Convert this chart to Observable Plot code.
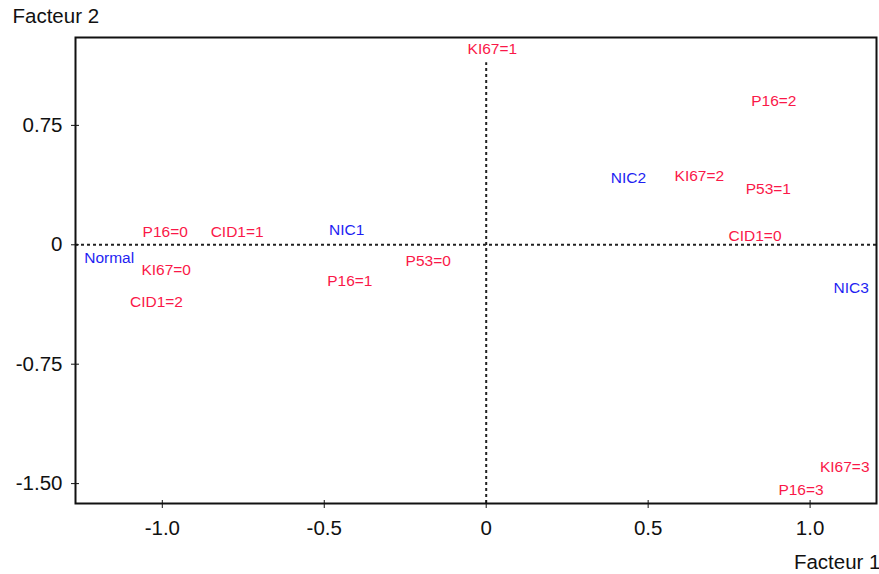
<!DOCTYPE html>
<html>
<head>
<meta charset="utf-8">
<script src="https://cdn.jsdelivr.net/npm/d3@7"></script>
<script src="https://cdn.jsdelivr.net/npm/@observablehq/plot@0.6"></script>
<style>
  html, body { margin: 0; padding: 0; background: #fff; }
  #chart svg { display: block; }
</style>
</head>
<body>
<div id="chart"></div>
<script>
// Modalities (red) and group points (blue)
const modLabels = ["KI67=1", "P16=2", "KI67=2", "P53=1", "CID1=0", "KI67=3", "P16=3",
                   "P16=0", "CID1=1", "KI67=0", "CID1=2", "P53=0", "P16=1"];
const modX = [0.019, 0.888, 0.658, 0.871, 0.830, 1.107, 0.972,
              -0.991, -0.769, -0.988, -1.018, -0.179, -0.421];
const modY = [1.228, 0.901, 0.430, 0.351, 0.058, -1.397, -1.543,
              0.083, 0.083, -0.161, -0.360, -0.105, -0.228];

const grpLabels = ["Normal", "NIC1", "NIC2", "NIC3"];
const grpX = [-1.164, -0.431, 0.439, 1.127];
const grpY = [-0.084, 0.094, 0.420, -0.272];

const xTicks = [-1.0, -0.5, 0, 0.5, 1.0];
const xTickLabels = ["-1.0", "-0.5", "0", "0.5", "1.0"];
const yTicks = [0.75, 0, -0.75, -1.5];
const yTickLabels = ["0.75", "0", "-0.75", "-1.50"];

const xDomain = [-1.268, 1.205];
const yDomain = [-1.625, 1.302];
const vLineTop = 1.144;

const mods = modLabels.map((l, i) => ({label: l, x: modX[i], y: modY[i]}));
const grps = grpLabels.map((l, i) => ({label: l, x: grpX[i], y: grpY[i]}));

const font = "Liberation Sans, Arial, Helvetica, sans-serif";

const chart = Plot.plot({
  width: 879,
  height: 574,
  marginLeft: 75,
  marginRight: 3,
  marginTop: 37,
  marginBottom: 71,
  style: {fontFamily: font, background: "#fff"},
  x: {domain: xDomain, label: null},
  y: {domain: yDomain, label: null},
  marks: [
    // dashed reference lines
    Plot.ruleY([0], {stroke: "#222", strokeWidth: 2, strokeDasharray: "3,3"}),
    Plot.ruleX([0], {y1: yDomain[0], y2: vLineTop, stroke: "#222", strokeWidth: 2, strokeDasharray: "3,3"}),
    Plot.frame({stroke: "#111", strokeWidth: 2}),
    // tick marks crossing the frame
    Plot.axisX({ticks: xTicks, tickSize: 8, dy: -3, tickFormat: () => "", stroke: "#111", label: null}),
    Plot.axisY({ticks: yTicks, tickSize: 8, dx: 4, tickFormat: () => "", stroke: "#111", label: null}),
    // tick labels
    Plot.axisX({ticks: xTicks, tickFormat: (d) => xTickLabels[xTicks.indexOf(d)], tickSize: 0, tickPadding: 17,
                fontSize: 20.5, fill: "#111", label: null}),
    Plot.axisY({ticks: yTicks, tickFormat: (d) => yTickLabels[yTicks.indexOf(d)], tickSize: 0, tickPadding: 13,
                fontSize: 20.5, fill: "#111", label: null}),
    // labels
    Plot.text(mods, {x: "x", y: "y", text: "label", fill: "#fa1848", fontSize: 15.5,
                     stroke: "white", strokeWidth: 4, paintOrder: "stroke"}),
    Plot.text(grps, {x: "x", y: "y", text: "label", fill: "#1f1ff2", fontSize: 15.5,
                     stroke: "white", strokeWidth: 4, paintOrder: "stroke"}),
    // axis titles
    Plot.text(["Facteur 2"], {frameAnchor: "top-left", dx: -63, dy: -15, textAnchor: "start",
                              lineAnchor: "bottom", fontSize: 20.5, fill: "#111"}),
    Plot.text(["Facteur 1"], {frameAnchor: "bottom-right", dx: 4, dy: 65, textAnchor: "end",
                              lineAnchor: "bottom", fontSize: 20.5, fill: "#111"})
  ]
});
document.getElementById("chart").append(chart);
</script>
</body>
</html>
